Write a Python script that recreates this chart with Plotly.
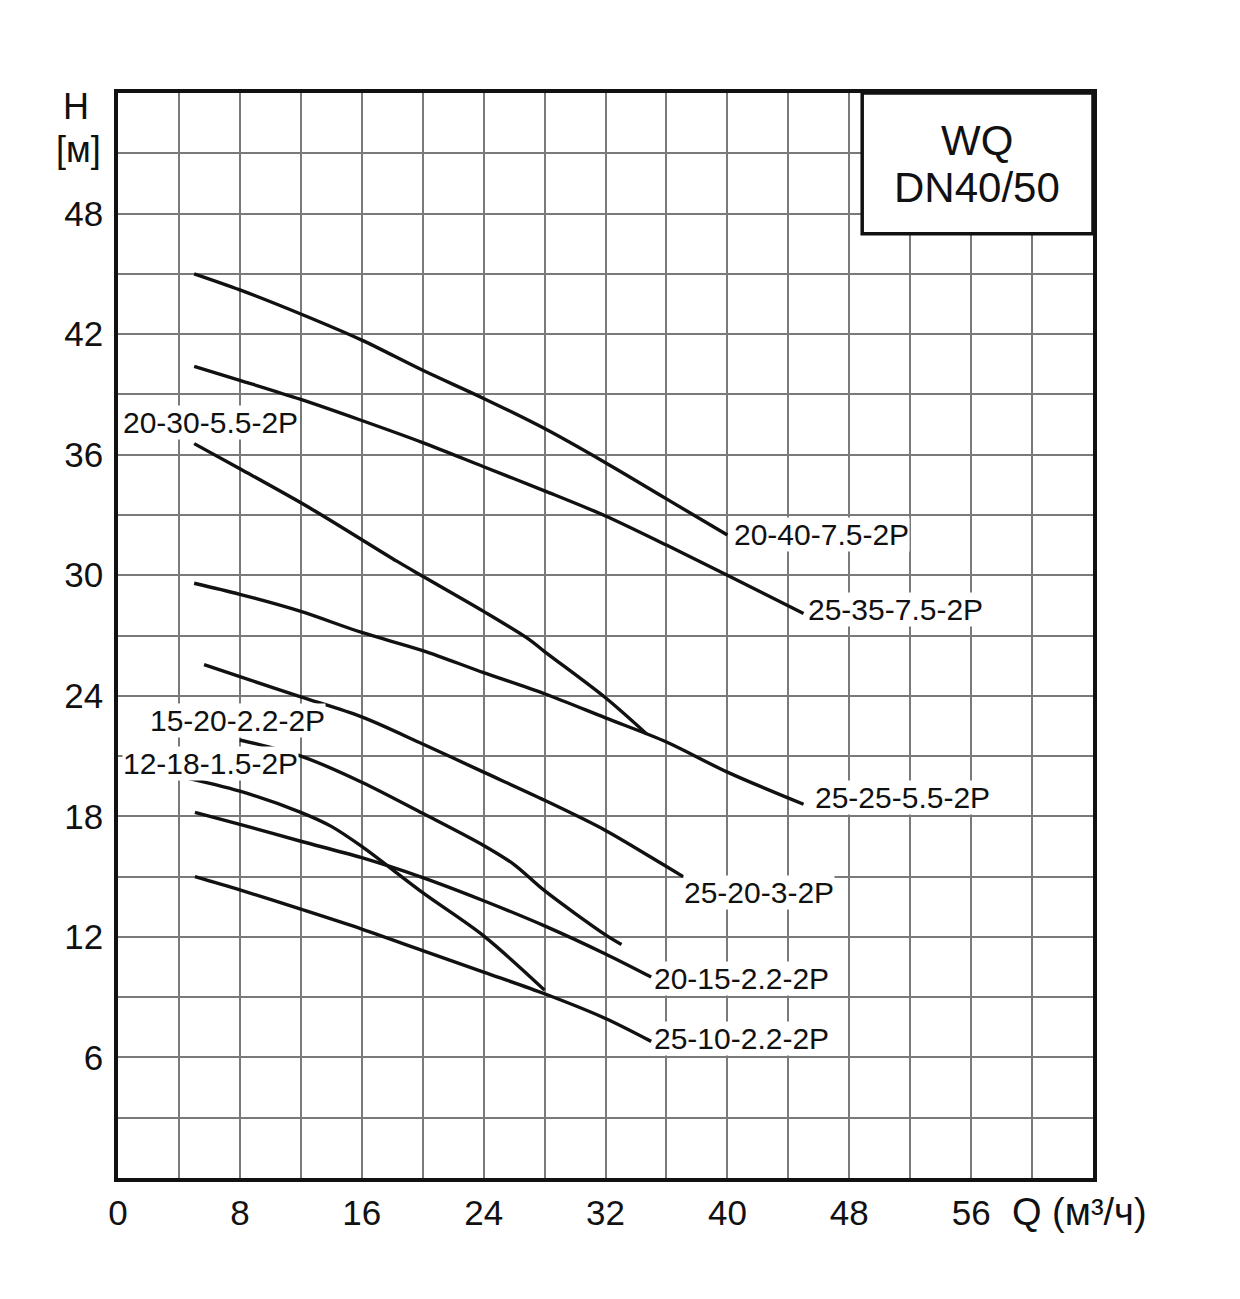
import plotly.graph_objects as go

# ---- data ----
x_grid = [0, 4, 8, 12, 16, 20, 24, 28, 32, 36, 40, 44, 48, 52, 56, 60, 64]
x_tick_text = ["0", "", "8", "", "16", "", "24", "", "32", "", "40", "", "48", "", "56", "", ""]
y_grid = [0, 3, 6, 9, 12, 15, 18, 21, 24, 27, 30, 33, 36, 39, 42, 45, 48, 51, 54]
y_tick_text = ["", "", "6", "", "12", "", "18", "", "24", "", "30", "", "36", "", "42", "", "48", "", ""]

names = ["20-40-7.5-2P", "25-35-7.5-2P", "20-30-5.5-2P", "25-25-5.5-2P", "25-20-3-2P",
         "15-20-2.2-2P", "12-18-1.5-2P", "20-15-2.2-2P", "25-10-2.2-2P"]

q_20_40 = [5, 8, 12, 16, 20, 24, 28, 32, 36, 40]
h_20_40 = [45.0, 44.2, 43.0, 41.7, 40.2, 38.8, 37.3, 35.6, 33.8, 32.0]

q_25_35 = [5, 8, 12, 16, 20, 24, 28, 32, 36, 40, 45]
h_25_35 = [40.4, 39.7, 38.75, 37.7, 36.6, 35.4, 34.2, 32.95, 31.5, 30.0, 28.1]

q_20_30 = [5, 8, 12.7, 18.3, 20, 24, 27, 28, 32, 34.7]
h_20_30 = [36.55, 35.3, 33.3, 30.7, 29.95, 28.2, 26.8, 26.2, 23.9, 22.1]

q_25_25 = [5, 8, 12, 16, 20, 24, 28, 32, 36, 40, 45]
h_25_25 = [29.6, 29.05, 28.2, 27.15, 26.25, 25.15, 24.1, 22.9, 21.7, 20.2, 18.6]

q_25_20 = [5.65, 8, 12, 16, 20, 24, 28, 32, 36, 37.1]
h_25_20 = [25.55, 24.95, 23.95, 22.95, 21.6, 20.2, 18.8, 17.3, 15.5, 15.0]

q_15_20 = [8, 12, 16, 20, 24, 26, 28, 32, 33.05]
h_15_20 = [21.8, 21.0, 19.7, 18.15, 16.55, 15.6, 14.3, 12.1, 11.62]

q_12_18 = [3.95, 8, 12, 14, 16, 20, 24, 28]
h_12_18 = [20.0, 19.25, 18.2, 17.5, 16.5, 14.2, 12.05, 9.35]

q_20_15 = [5.05, 8, 12, 16, 20, 24, 28, 32, 35]
h_20_15 = [18.2, 17.6, 16.76, 15.94, 14.95, 13.8, 12.55, 11.15, 10.0]

q_25_10 = [5.05, 8, 12, 16, 20, 24, 28, 32, 35]
h_25_10 = [15.0, 14.34, 13.38, 12.39, 11.32, 10.25, 9.17, 7.94, 6.8]

series_q = [q_20_40, q_25_35, q_20_30, q_25_25, q_25_20, q_15_20, q_12_18, q_20_15, q_25_10]
series_h = [h_20_40, h_25_35, h_20_30, h_25_25, h_25_20, h_15_20, h_12_18, h_20_15, h_25_10]

# ---- layout constants ----
label_pos = [(40.34, 32.04), (45.25, 28.27), (0.26, 37.6), (45.71, 18.93), (37.07, 14.21),
             (2.03, 22.75), (0.26, 20.62), (35.1, 9.94), (35.1, 6.95)]

FONT = "Liberation Sans, Arial, sans-serif"
INK = "#111111"

fig = go.Figure()
for q, h, n in zip(series_q, series_h, names):
    fig.add_trace(go.Scatter(x=q, y=h, mode="lines", name=n,
                             line=dict(color=INK, width=3.4, shape="spline", smoothing=0.9),
                             showlegend=False, hoverinfo="skip"))

annotations = []
for n, (lx, ly) in zip(names, label_pos):
    annotations.append(dict(x=lx, y=ly, xref="x", yref="y", text=n, showarrow=False,
                            xanchor="left", yanchor="middle", borderpad=0, bgcolor="white",
                            font=dict(family=FONT, size=30, color=INK)))

# box title
annotations.append(dict(x=56.4, y=51.65, xref="x", yref="y", text="WQ", showarrow=False,
                        xanchor="center", yanchor="middle",
                        font=dict(family=FONT, size=42, color=INK)))
annotations.append(dict(x=56.4, y=49.28, xref="x", yref="y", text="DN40/50", showarrow=False,
                        xanchor="center", yanchor="middle",
                        font=dict(family=FONT, size=42, color=INK)))

# axis titles
annotations.append(dict(x=-0.043, y=0.988, xref="paper", yref="paper", text="H", showarrow=False,
                        xanchor="center", yanchor="middle",
                        font=dict(family=FONT, size=36, color=INK)))
annotations.append(dict(x=-0.041, y=0.9476, xref="paper", yref="paper", text="[м]", showarrow=False,
                        xanchor="center", yanchor="middle",
                        font=dict(family=FONT, size=36, color=INK)))
annotations.append(dict(x=0.915, y=-0.0313, xref="paper", yref="paper", text="Q (м³/ч)",
                        showarrow=False, xanchor="left", yanchor="middle",
                        font=dict(family=FONT, size=38, color=INK)))

fig.add_shape(type="rect", xref="x", yref="y", x0=48.85, x1=64, y0=47.0, y1=54,
              fillcolor="white", line=dict(color=INK, width=3.5), layer="above")

axis_common = dict(showgrid=True, gridcolor="#7a7a7a", gridwidth=2, zeroline=False,
                   showline=True, mirror=True, linecolor=INK, linewidth=3.5,
                   ticks="", tickfont=dict(family=FONT, size=35, color=INK),
                   tickmode="array")

fig.update_layout(
    width=1240, height=1299,
    margin=dict(l=118, r=147, t=93, b=121, pad=0),
    paper_bgcolor="white", plot_bgcolor="white",
    annotations=annotations,
    xaxis=dict(range=[0, 64], tickvals=x_grid, ticktext=x_tick_text,
               ticklabelstandoff=1, **axis_common),
    yaxis=dict(range=[0, 54], tickvals=y_grid, ticktext=y_tick_text,
               ticklabelstandoff=4, **axis_common),
)

fig.write_html("out.html")
